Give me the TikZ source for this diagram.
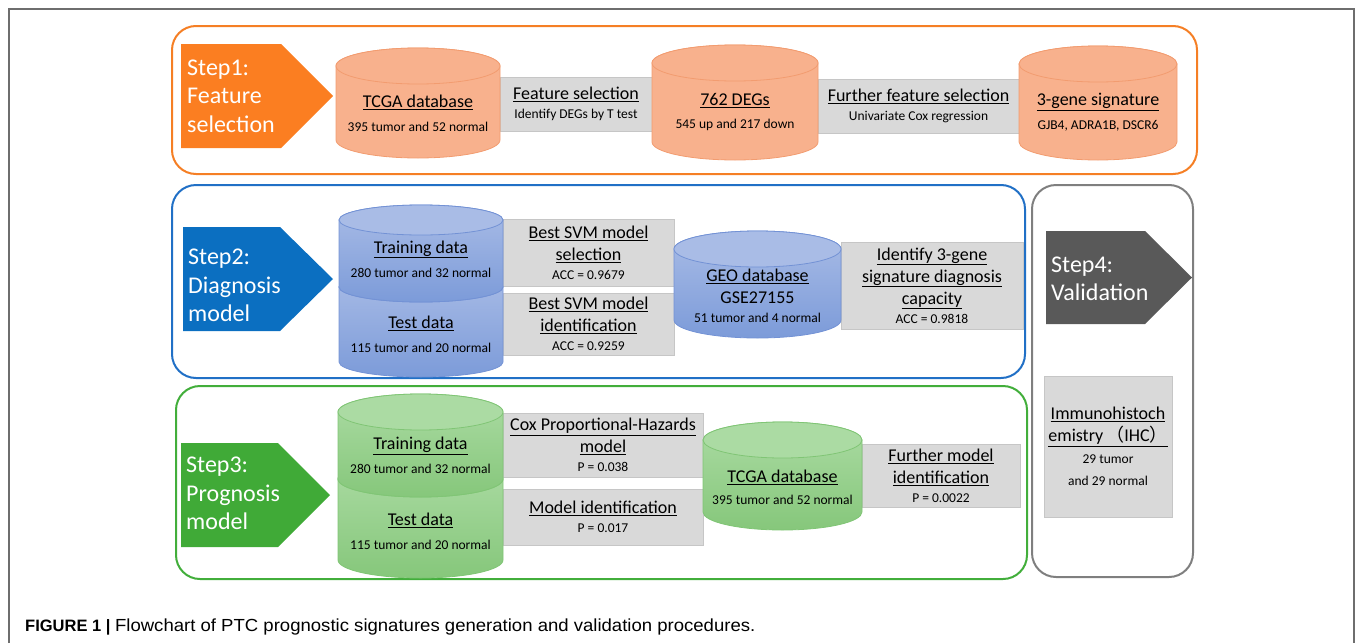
\documentclass[tikz,border=0pt]{standalone}
\usepackage{fontspec}
\setmainfont{Carlito}
\newfontfamily\capfont{Liberation Sans}
\newfontfamily\cjk{Noto Sans CJK SC}
\usetikzlibrary{positioning}

\definecolor{framegray}{HTML}{6E6E6E}
\definecolor{lineone}{HTML}{F57F25}
\definecolor{linetwo}{HTML}{2170C6}
\definecolor{linethree}{HTML}{42AE3B}
\definecolor{linefour}{HTML}{7F7F7F}
\definecolor{stepone}{HTML}{FB7E21}
\definecolor{steptwo}{HTML}{0B6FC1}
\definecolor{stepthree}{HTML}{40AA37}
\definecolor{stepfour}{HTML}{595959}
\definecolor{drumO}{HTML}{F8B18D}
\definecolor{drumOline}{HTML}{F29C70}
\definecolor{drumBtop}{HTML}{A9BCE6}
\definecolor{drumBbot}{HTML}{7C9BD9}
\definecolor{drumBline}{HTML}{7392D5}
\definecolor{drumGtop}{HTML}{ABDBA3}
\definecolor{drumGbot}{HTML}{86C77B}
\definecolor{drumGline}{HTML}{80C575}
\definecolor{boxfill}{HTML}{D9D9D9}
\definecolor{boxline}{HTML}{C6C6C6}

\newcommand\headfont{\fontsize{18}{22}\selectfont}
\newcommand\notefont{\fontsize{13.5}{16}\selectfont}

% database drum: colour set, name, centre x, top y, width, height, lid radius
\newcommand\drum[7]{%
  \path[#1drum] (#3-#5/2,#4+#7) -- (#3-#5/2,#4+#6-#7)
    arc[start angle=180, end angle=360, x radius=#5/2*1pt, y radius=#7*1pt]
    -- (#3+#5/2,#4+#7)
    arc[start angle=0, end angle=180, x radius=#5/2*1pt, y radius=#7*1pt] -- cycle;
  \path[#1lid] (#3,#4+#7) ellipse[x radius=#5/2*1pt, y radius=#7*1pt];
  \coordinate (#2) at (#3,#4+#6/2);}

\tikzset{
  panel/.style={line width=2pt, rounded corners=24pt},
  steptxt/.style={text=white, align=left, anchor=west, inner sep=0pt,
    font=\fontsize{24}{28.5}\selectfont},
  orangedrum/.style={fill=drumO, draw=drumOline, line width=0.8pt},
  orangelid/.style={fill=drumO, draw=drumOline, line width=0.8pt},
  bluedrum/.style={top color=drumBtop, bottom color=drumBbot, draw=drumBline, line width=0.8pt},
  bluelid/.style={fill=drumBtop, draw=drumBline, line width=0.8pt},
  greendrum/.style={top color=drumGtop, bottom color=drumGbot, draw=drumGline, line width=0.8pt},
  greenlid/.style={fill=drumGtop, draw=drumGline, line width=0.8pt},
  graybox/.style={draw=boxline, fill=boxfill, line width=0.8pt, align=center,
    inner sep=0pt, font=\headfont},
  txt/.style={align=center, inner sep=0pt, font=\headfont}
}

\begin{document}
\begin{tikzpicture}[x=1pt,y=-1pt]
  \useasboundingbox (0,0) rectangle (1355,643);
  \draw[framegray, line width=1.5pt] (9,643) -- (9,9) -- (1354,9) -- (1354,643);

  % the four panels
  \draw[panel, draw=lineone] (172,26) rectangle (1197,174);
  \draw[panel, draw=linetwo] (172,185) rectangle (1025,378);
  \draw[panel, draw=linethree] (176,386) rectangle (1027,579);
  \draw[panel, draw=linefour] (1032,185) rectangle (1193,577);

  % step arrows
  \fill[stepone] (181,44) -- (281,44) -- (333,96) -- (281,148) -- (181,148) -- cycle;
  \fill[steptwo] (183,227) -- (280,227) -- (333,279) -- (280,331) -- (183,331) -- cycle;
  \fill[stepthree] (181,443) -- (278,443) -- (330,495) -- (278,547) -- (181,547) -- cycle;
  \fill[stepfour] (1046,231) -- (1145,231) -- (1192,277.5) -- (1145,324) -- (1046,324) -- cycle;
  \node[steptxt] (s1) at (187,96) {Step1:\\Feature\\selection};
  \node[steptxt] (s2) at (188,285.5) {Step2:\\Diagnosis\\model};
  \node[steptxt] (s3) at (186,493.5) {Step3:\\Prognosis\\model};
  \node[steptxt] (s4) at (1051,279) {Step4:\\Validation};

  % step 1: feature selection
  \node[graybox, minimum width=152, minimum height=54] (fsel) at (576,104)
    {\underline{Feature selection}\\[-3pt]{\notefont Identify DEGs by T test}};
  \node[graybox, minimum width=201, minimum height=54] (ffsel) at (918.5,106)
    {\underline{Further feature selection}\\[-3pt]{\notefont Univariate Cox regression}};
  \drum{orange}{tcga}{418}{48}{164}{110}{18}
  \drum{orange}{degs}{735}{45}{166}{115}{18}
  \drum{orange}{sig}{1098}{46}{158}{114}{18}
  \node[txt] (tcga-t) at (418,113) {\underline{TCGA database}\\[2pt]{\notefont 395 tumor and 52 normal}};
  \node[txt] (degs-t) at (735,112) {\underline{762 DEGs}\\[1pt]{\notefont 545 up and 217 down}};
  \node[txt] (sig-t) at (1098,112) {\underline{3-gene signature}\\[2pt]{\notefont GJB4, ADRA1B, DSCR6}};

  % step 2: diagnosis model
  \node[graybox, minimum width=171, minimum height=67] (svmsel) at (588.5,252.5)
    {\underline{Best SVM model}\\\underline{selection}\\[-3pt]{\notefont ACC = 0.9679}};
  \node[graybox, minimum width=171, minimum height=62] (svmid) at (588.5,324)
    {\underline{Best SVM model}\\\underline{identification}\\[-3pt]{\notefont ACC = 0.9259}};
  \node[graybox, minimum width=182, minimum height=87] (diag) at (932,285.5)
    {\underline{Identify 3-gene}\\\underline{signature diagnosis}\\\underline{capacity}\\[-3pt]{\notefont ACC = 0.9818}};
  \drum{blue}{test2}{421}{272}{164}{105}{15}
  \drum{blue}{train2}{421}{205}{164}{97}{15}
  \drum{blue}{geo}{757.5}{231}{167}{107}{18}
  \node[txt] (train2-t) at (421,259) {\underline{Training data}\\[2pt]{\notefont 280 tumor and 32 normal}};
  \node[txt] (test2-t) at (421,334.5) {\underline{Test data}\\[2pt]{\notefont 115 tumor and 20 normal}};
  \node[txt] (geo-t) at (757.5,295.5) {\underline{GEO database}\\GSE27155\\[-3pt]{\notefont 51 tumor and 4 normal}};

  % step 3: prognosis model
  \node[graybox, minimum width=200, minimum height=64] (cox) at (603,445)
    {\underline{Cox Proportional-Hazards}\\\underline{model}\\[-3pt]{\notefont P = 0.038}};
  \node[graybox, minimum width=200, minimum height=56] (modid) at (603,517)
    {\underline{Model identification}\\[-3pt]{\notefont P = 0.017}};
  \node[graybox, minimum width=158, minimum height=63] (furid) at (941,475.5)
    {\underline{Further model}\\\underline{identification}\\[-3pt]{\notefont P = 0.0022}};
  \drum{green}{test3}{420.5}{461}{165}{117}{18}
  \drum{green}{train3}{420.5}{394}{165}{103}{18}
  \drum{green}{tcga3}{782.5}{422}{159}{108}{18}
  \node[txt] (train3-t) at (420.5,455) {\underline{Training data}\\[2pt]{\notefont 280 tumor and 32 normal}};
  \node[txt] (test3-t) at (420.5,531.5) {\underline{Test data}\\[2pt]{\notefont 115 tumor and 20 normal}};
  \node[txt] (tcga3-t) at (782.5,487) {\underline{TCGA database}\\{\notefont 395 tumor and 52 normal}};

  % step 4: validation
  \node[graybox, minimum width=128, minimum height=141] (ihc) at (1108,446.5)
    {\underline{Immunohistoch}\\\underline{emistry\,{\cjk （}IHC{\cjk ）}}\\{\notefont 29 tumor}\\{\notefont and 29 normal}};

  \node[anchor=west, inner sep=0pt, font=\capfont\fontsize{16.5}{19}\selectfont] (caption) at (25,627)
    {\textbf{FIGURE 1 |} \scalebox{1.06}[1]{\fontsize{17.5}{19}\selectfont Flowchart of PTC prognostic signatures generation and validation procedures.}};
\end{tikzpicture}
\end{document}
